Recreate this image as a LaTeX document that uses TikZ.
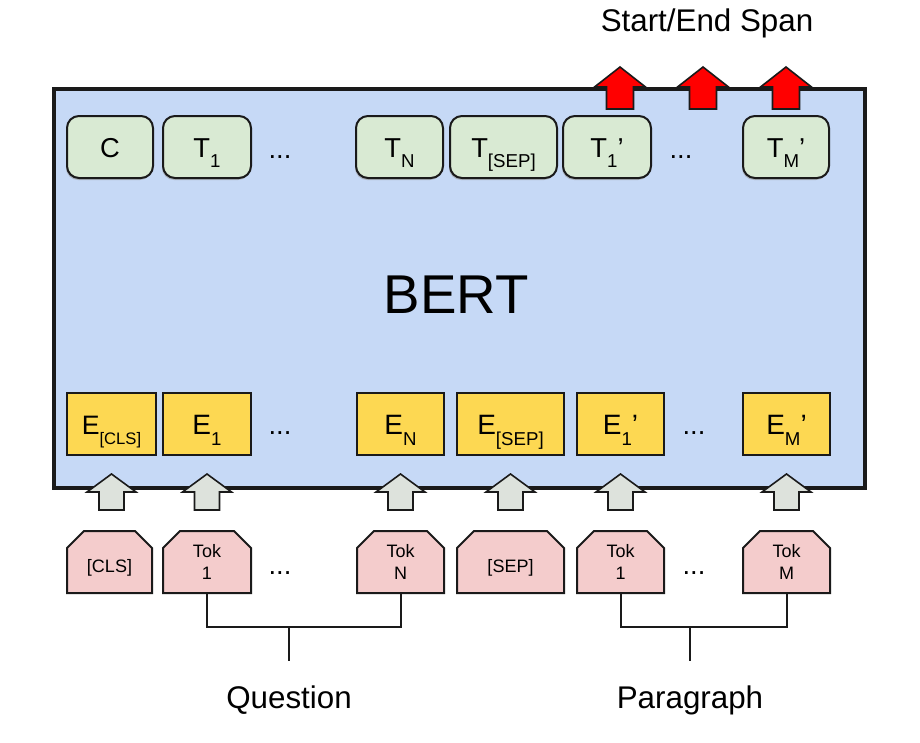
\documentclass[tikz,border=0pt]{standalone}
\usepackage{fontspec}
\setmainfont{Liberation Sans}
\usetikzlibrary{shapes.misc,shadows}
\definecolor{bertblue}{HTML}{C6D9F6}
\definecolor{tgreen}{HTML}{D9EAD3}
\definecolor{eyellow}{HTML}{FDD852}
\definecolor{tokpink}{HTML}{F4CCCC}
\definecolor{agrey}{HTML}{DDE2DC}
\definecolor{ared}{HTML}{FF0000}
\definecolor{ink}{HTML}{1A1A1A}
\newcommand{\sbs}[1]{\raisebox{-0.4em}{\fontsize{14}{14}\selectfont #1}}
\newcommand{\sbsm}[1]{\raisebox{-0.4em}{\fontsize{12.5}{12.5}\selectfont #1}}
\begin{document}
\begin{tikzpicture}[x=0.75pt,y=-0.75pt,
  bertbox/.style={draw=ink, line width=3pt, fill=bertblue, minimum width=607.9pt, minimum height=298.9pt, inner sep=0pt},
  outnode/.style={draw=ink, line width=1.5pt, fill=tgreen, rounded corners=9pt, minimum height=46.5pt, inner sep=0pt, text height=15pt, text depth=0pt, font=\fontsize{20.5}{24}\selectfont, drop shadow={shadow xshift=-0.75pt, shadow yshift=-1.5pt, fill=black!40, opacity=0.6}},
  embnode/.style={draw=ink, line width=1.5pt, fill=eyellow, minimum height=46.5pt, inner sep=0pt, text height=15pt, text depth=0pt, font=\fontsize{21}{24}\selectfont},
  toknode/.style={chamfered rectangle, chamfered rectangle corners={north west,north east}, chamfered rectangle xsep=6pt, chamfered rectangle ysep=6.75pt, draw=ink, line width=1.5pt, fill=tokpink, minimum height=46.5pt, inner sep=0pt, align=center, font=\fontsize{13.5}{16.5}\selectfont},
  toksingle/.style={toknode, text height=15pt, text depth=0pt},
  dots/.style={anchor=base, inner sep=0pt, font=\fontsize{20.5}{24}\selectfont},
  caption/.style={anchor=base, inner sep=0pt, font=\fontsize{23.5}{28}\selectfont},
  bracket/.style={draw=ink, line width=1.5pt},
  redarrow/.pic={\filldraw[fill=ared, draw=ink, line width=1.2pt, line join=miter] (0,0) -- (25.5,20) -- (13.5,20) -- (13.5,42) -- (-13.5,42) -- (-13.5,20) -- (-25.5,20) -- cycle;},
  greyarrow/.pic={\filldraw[fill=agrey, draw=ink, line width=1.2pt, line join=miter] (0,0) -- (24.5,18) -- (12.5,18) -- (12.5,36) -- (-12.5,36) -- (-12.5,18) -- (-24.5,18) -- cycle;}
]
\useasboundingbox (0,0) rectangle (920,742);

% BERT box
\node[bertbox] (bert) at (459.75,288.75) {};
\node[anchor=base, inner sep=0pt, font=\fontsize{41}{48}\selectfont] (bertlabel) at (456,313) {BERT};

% output row
\node[outnode, minimum width=64.5pt] (oc) at (110,147) {C};
\node[outnode, minimum width=66pt] (o1) at (207,147) {T\sbs{1}};
\node[dots] (od1) at (280,158) {...};
\node[outnode, minimum width=65.25pt] (on) at (399.5,147) {T\sbs{N}};
\node[outnode, minimum width=80.25pt] (osep) at (503.5,147) {T\sbs{[SEP]}};
\node[outnode, minimum width=66pt] (op1) at (607,147) {T\sbs{1}’};
\node[dots] (od2) at (681,158) {...};
\node[outnode, minimum width=64.5pt] (opm) at (786,147) {T\sbs{M}’};

% embedding row
\node[embnode, minimum width=66.75pt, font=\fontsize{20}{24}\selectfont] (ecls) at (111.5,424) {E\sbsm{[CLS]}};
\node[embnode, minimum width=66pt] (e1) at (207,424) {E\sbs{1}};
\node[dots] (ed1) at (280,434) {...};
\node[embnode, minimum width=65.25pt] (en) at (400.5,424) {E\sbs{N}};
\node[embnode, minimum width=80.25pt] (esep) at (510.5,424) {E\sbs{[SEP]}};
\node[embnode, minimum width=65.25pt] (ep1) at (620.5,424) {E\sbs{1}’};
\node[dots] (ed2) at (694,434) {...};
\node[embnode, minimum width=65.25pt] (epm) at (786.5,424) {E\sbs{M}’};

% token row
\node[toksingle, minimum width=63.75pt] (tcls) at (109.5,562) {[CLS]};
\node[toknode, minimum width=66pt] (tq1) at (207,562) {Tok\\1};
\node[dots] (td1) at (280,574) {...};
\node[toknode, minimum width=65.25pt] (tqn) at (400.5,562) {Tok\\N};
\node[toksingle, minimum width=80.25pt] (tsep) at (510.5,562) {[SEP]};
\node[toknode, minimum width=65.25pt] (tp1) at (620.5,562) {Tok\\1};
\node[dots] (td2) at (694,574) {...};
\node[toknode, minimum width=65.25pt] (tpm) at (786.5,562) {Tok\\M};

% block arrows
\path (ecls.south) ++(0,18) pic {greyarrow};
\path (e1.south) ++(0,18) pic {greyarrow};
\path (en.south) ++(0,18) pic {greyarrow};
\path (esep.south) ++(0,18) pic {greyarrow};
\path (ep1.south) ++(0,18) pic {greyarrow};
\path (epm.south) ++(0,18) pic {greyarrow};
\pic at (620,67) {redarrow};
\pic at (703,67) {redarrow};
\pic at (786,67) {redarrow};

% captions
\node[caption] (span) at (707,32) {Start/End Span};
\node[caption] (question) at (289,708) {Question};
\node[caption] (paragraph) at (690,708) {Paragraph};

% brackets
\coordinate (qj) at (289,627);
\coordinate (qe) at (289,661);
\coordinate (pj) at (690,627);
\coordinate (pe) at (690,661);
\draw[bracket] (tq1.south) -- (tq1.south |- qj) -- (tqn.south |- qj) -- (tqn.south);
\draw[bracket] (qj) -- (qe);
\draw[bracket] (tp1.south) -- (tp1.south |- pj) -- (tpm.south |- pj) -- (tpm.south);
\draw[bracket] (pj) -- (pe);
\end{tikzpicture}
\end{document}
